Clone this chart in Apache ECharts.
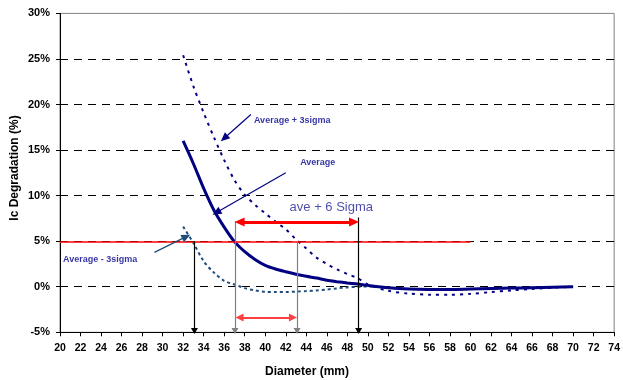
<!DOCTYPE html>
<html><head><meta charset="utf-8">
<script src="https://cdn.jsdelivr.net/npm/echarts@6/dist/echarts.min.js"></script>
<style>html,body{margin:0;padding:0;background:#fff}#c{width:623px;height:380px}</style>
</head><body><div id="c"></div>
<script>
// Diameter (mm) sample points
const diam = [32,33,34,35,36,37,38,39,40,41,42,43,44,45,46,47,48,49,50,52,54,56,58,60,62,64,66,68,70];
// Ic degradation (%)
const average = [16.0,13.5,10.8,8.4,6.55,4.95,3.85,3.0,2.35,1.95,1.65,1.38,1.15,0.95,0.72,0.56,0.42,0.3,0.15,-0.1,-0.25,-0.3,-0.3,-0.25,-0.2,-0.15,-0.1,-0.05,0];
const avgPlus3 = [25.4,22.0,19.1,16.4,13.9,11.7,10.1,9.0,8.05,7.15,6.3,5.2,4.2,3.2,2.5,1.9,1.4,0.95,0.25,-0.45,-0.75,-0.87,-0.88,-0.78,-0.58,-0.4,-0.25,-0.1,0];
const avgMinus3 = [6.6,4.8,2.8,1.55,0.65,0.25,-0.15,-0.4,-0.55,-0.58,-0.58,-0.53,-0.48,-0.4,-0.3,-0.18,-0.07,0,0.03,-0.12,-0.25,-0.3,-0.3,-0.25,-0.2,-0.15,-0.1,-0.05,0];
// Axis ranges / ticks
const xRange = [20, 74], xStep = 2;
const yRange = [-5, 30], yStep = 5;
// Annotation values
const limitLevel = 4.9, limitRange = [20, 60];
const dropLines = [ {x:33.1, top:5.0}, {x:37.05, top:7.2}, {x:43.1, top:5.0}, {x:49.1, top:7.6} ];
const sixSigmaArrow = {from:37.05, to:49.1, y:7.1};
const threeSigmaArrow = {from:37.1, to:43.1, y:-3.37};
const labels = [
  {text:'Average + 3sigma', x:38.9, y:18.2},
  {text:'Average', x:43.4, y:13.6},
  {text:'ave + 6 Sigma', x:42.37, y:8.7},
  {text:'Average - 3sigma', x:20.3, y:2.96}
];
const pointerArrows = [
  {from:[38.6,18.9], to:[36.0,16.3], color:'#000080'},
  {from:[42.0,12.5], to:[35.25,8.15], color:'#000080'},
  {from:[29.2,3.77], to:[32.3,5.5], color:'#1f4e79'}
];

const FONT = '"Liberation Sans", Arial, sans-serif';
const pair = (a, b) => a.map((v, i) => [v, b[i]]);
const chart = echarts.init(document.getElementById('c'), null, {renderer:'canvas'});

const nTicks = (yRange[1]-yRange[0])/yStep + 1;
const splitColors = [];
for (let i = 0; i < nTicks; i++) splitColors.push((i === 0 || i === nTicks-1) ? 'rgba(0,0,0,0)' : '#000');

const hw = 0.45; // arrow head half-length in data units (x)
const markData = [];
markData.push([{coord:[limitRange[0], limitLevel], symbol:'none', lineStyle:{color:'#ff0000', width:1.5, type:'solid'}}, {coord:[limitRange[1], limitLevel], symbol:'none'}]);
dropLines.forEach((d, i) => {
  const col = (i === 1 || i === 2) ? '#808080' : '#000';
  markData.push([{coord:[d.x, d.top], symbol:'none', lineStyle:{color:col, width:1.2, type:'solid'}}, {coord:[d.x, yRange[0]+0.15], symbol:'triangle', symbolSize:[7,6], itemStyle:{color:'#000'}}]);
});
markData.push([{coord:[sixSigmaArrow.from+hw, sixSigmaArrow.y], symbol:'triangle', symbolSize:[9,10], lineStyle:{color:'#ff0000', width:3, type:'solid'}}, {coord:[sixSigmaArrow.to-hw, sixSigmaArrow.y], symbol:'triangle', symbolSize:[9,10]}]);
markData.push([{coord:[threeSigmaArrow.from+0.4, threeSigmaArrow.y], symbol:'triangle', symbolSize:[8,8], lineStyle:{color:'#ff4040', width:2, type:'solid'}}, {coord:[threeSigmaArrow.to-0.4, threeSigmaArrow.y], symbol:'triangle', symbolSize:[8,8]}]);
pointerArrows.forEach(a => {
  markData.push([{coord:a.from, symbol:'none', lineStyle:{color:a.color, width:1.2, type:'solid'}}, {coord:a.to, symbol:'triangle', symbolSize:[8,9]}]);
});

chart.setOption({
  animation:false,
  grid:{left:60, right:6, top:13.4, bottom:47.7, show:true, borderColor:'#808080', borderWidth:1, containLabel:false},
  xAxis:{type:'value', min:xRange[0], max:xRange[1], interval:xStep,
    axisLine:{show:true, onZero:false, lineStyle:{color:'#000', width:1}},
    axisTick:{show:true, length:4, lineStyle:{color:'#000'}},
    axisLabel:{color:'#000', fontFamily:FONT, fontWeight:'bold', fontSize:10.5, margin:10, showMaxLabel:true, showMinLabel:true},
    splitLine:{show:false}},
  yAxis:{type:'value', min:yRange[0], max:yRange[1], interval:yStep,
    axisLine:{show:true, onZero:false, lineStyle:{color:'#000', width:1}},
    axisTick:{show:true, length:4, lineStyle:{color:'#000'}},
    axisLabel:{color:'#000', fontFamily:FONT, fontWeight:'bold', fontSize:11, margin:10, formatter:'{value}%'},
    splitLine:{show:true, lineStyle:{color:splitColors, type:[8,6], width:1}}},
  graphic:[
    {type:'text', x:0, y:0, style:{text:'Diameter (mm)', font:'bold 12px '+FONT, fill:'#000', textAlign:'center', textVerticalAlign:'middle', x:307, y:372}},
    {type:'text', rotation:Math.PI/2, x:15, y:168, style:{text:'Ic Degradation (%)', font:'bold 12px '+FONT, fill:'#000', textAlign:'center', textVerticalAlign:'middle'}}
  ],
  series:[
    {type:'scatter', name:'annot', symbolSize:0, silent:true, z:5,
      data:labels.map(l => ({value:[l.x, l.y], label:{show:true, formatter:l.text, position:[0,0], align:'left', verticalAlign:'middle',
        color: l.text === 'ave + 6 Sigma' ? '#1f1f99' : '#00008b', fontFamily:FONT,
        fontWeight: l.text === 'ave + 6 Sigma' ? 'normal' : 'bold', fontSize: l.text === 'ave + 6 Sigma' ? 13 : 9}})),
      markLine:{silent:true, animation:false, label:{show:false}, emphasis:{disabled:true}, data:markData}},
    {type:'line', name:'Average - 3sigma', data:pair(diam, avgMinus3), smooth:0.3, showSymbol:false, z:3,
      lineStyle:{color:'#1f4e79', width:2, type:[3,3]}},
    {type:'line', name:'Average + 3sigma', data:pair(diam, avgPlus3), smooth:0.3, showSymbol:false, z:3,
      lineStyle:{color:'#000080', width:2, type:[3,5]}},
    {type:'line', name:'Average', data:pair(diam, average), smooth:0.3, showSymbol:false, z:4,
      lineStyle:{color:'#000080', width:3}}
  ]
});
</script></body></html>
